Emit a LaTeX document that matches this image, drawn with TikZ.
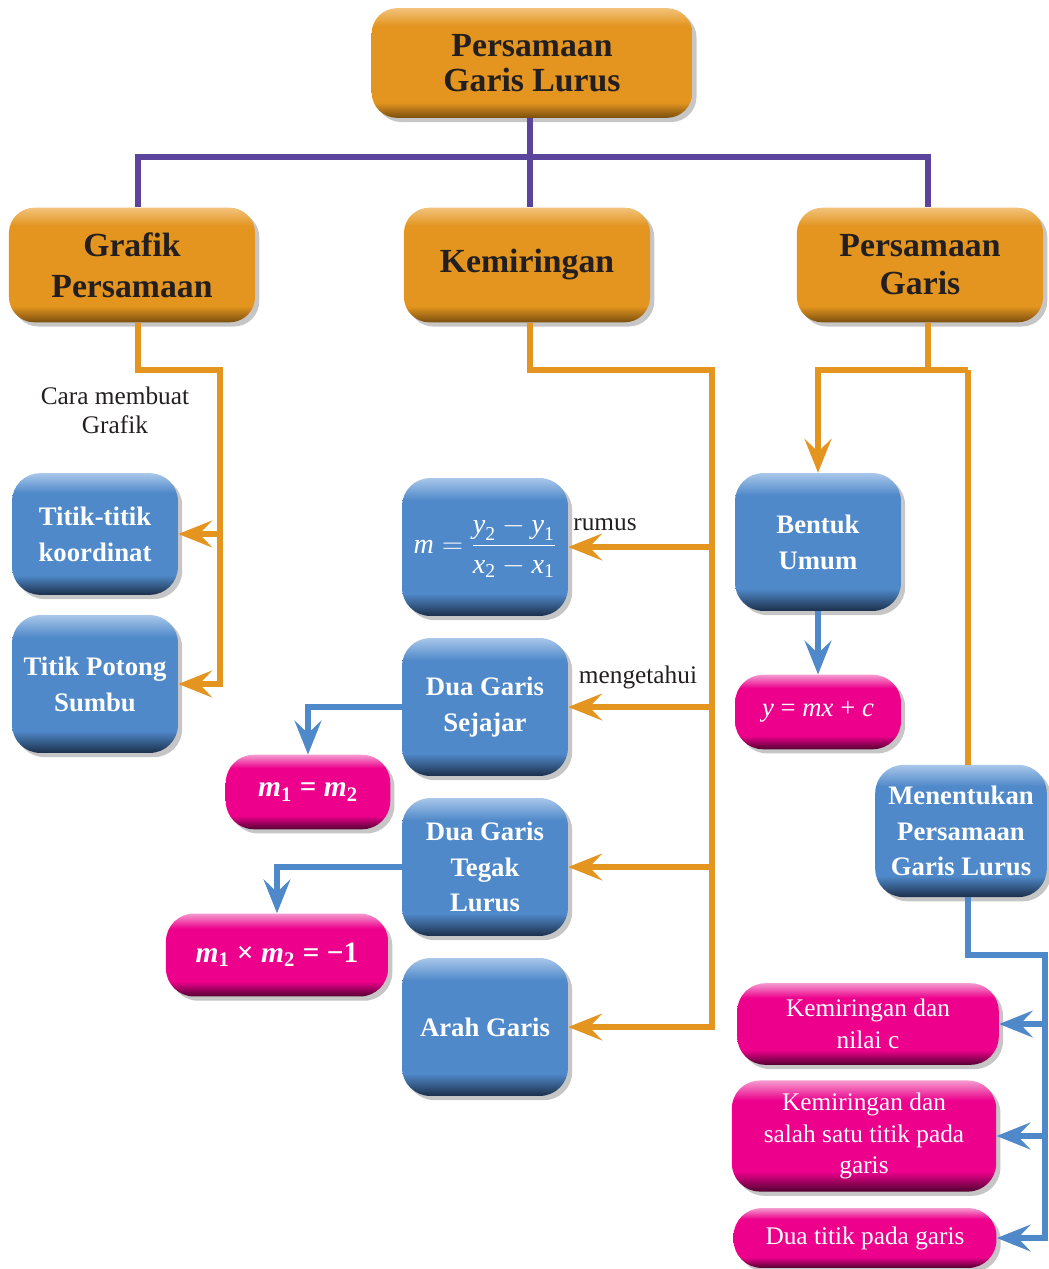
\documentclass[tikz,border=0pt]{standalone}
\usepackage{amsmath}
\usepackage{fontspec}
\setmainfont{Liberation Serif}
\usepackage{tikz}
\usepackage{xcolor}
\usetikzlibrary{arrows.meta,shadows}

\definecolor{jingga}{HTML}{E3951F}
\definecolor{jinggagelap}{HTML}{7A4E0E}
\definecolor{jinggaterang}{HTML}{F2C27A}
\definecolor{biru}{HTML}{4F89C9}
\definecolor{birugelap}{HTML}{1C2F4A}
\definecolor{biruterang}{HTML}{A9C7EA}
\definecolor{pink}{HTML}{EC008C}
\definecolor{pinkgelap}{HTML}{520030}
\definecolor{pinkterang}{HTML}{F59ACF}
\definecolor{ungu}{HTML}{5A449C}
\definecolor{teks}{HTML}{231F20}

\pgfdeclareverticalshading{kotakjingga}{100bp}{color(0bp)=(jinggagelap); color(25bp)=(jinggagelap); color(32bp)=(jingga); color(67bp)=(jingga); color(75bp)=(jinggaterang); color(100bp)=(jinggaterang)}
\pgfdeclareverticalshading{kotakbiru}{100bp}{color(0bp)=(birugelap); color(25bp)=(birugelap); color(33bp)=(biru); color(67bp)=(biru); color(75bp)=(biruterang); color(100bp)=(biruterang)}
\pgfdeclareverticalshading{kotakpink}{100bp}{color(0bp)=(pinkgelap); color(25bp)=(pinkgelap); color(34bp)=(pink); color(66bp)=(pink); color(75bp)=(pinkterang); color(100bp)=(pinkterang)}

\begin{document}
\begin{tikzpicture}[x=0.025cm, y=-0.025cm, >={Stealth[length=24pt,width=19pt,inset=9pt]},
    kotak/.style={align=center, inner sep=2pt, drop shadow={opacity=0.45, shadow xshift=3pt, shadow yshift=-3pt}},
    utama/.style={kotak, rounded corners=18pt, shading=kotakjingga, text=teks, minimum width=175pt, minimum height=81.5pt, font=\fontsize{24}{29}\selectfont\bfseries},
    kotakb/.style={kotak, rounded corners=20pt, shading=kotakbiru, text=white, minimum width=118pt, minimum height=98pt, font=\fontsize{19}{25.5}\selectfont\bfseries},
    kotakp/.style={kotak, rounded corners=20pt, shading=kotakpink, text=white, minimum width=117pt, minimum height=53pt, font=\fontsize{18}{23}\selectfont},
    ket/.style={text=teks, align=center, font=\fontsize{18}{20.5}\selectfont},
    garisu/.style={draw=ungu, line width=4.3pt},
    garisj/.style={draw=jingga, line width=4.3pt},
    garisb/.style={draw=biru, line width=4.3pt}]
    \useasboundingbox (0,0) rectangle (1048,1269);

    \node[utama, minimum width=228pt, minimum height=78pt, font=\fontsize{24}{25}\selectfont\bfseries] (pgl) at (532,63) {Persamaan\\Garis Lurus};
    \node[utama] (grafik) at (132,265) {Grafik\\Persamaan};
    \node[utama] (miring) at (527,265) {\raisebox{-4pt}{Kemiringan}};
    \node[utama, font=\fontsize{24}{27}\selectfont\bfseries] (persgaris) at (920,265) {Persamaan\\Garis};

    \node[kotakb, minimum height=86.5pt] (titik) at (95,534) {Titik-titik\\koordinat};
    \node[kotakb] (potong) at (95,684) {Titik Potong\\Sumbu};
    \node[kotakb, font=\fontsize{20}{22}\selectfont] (rumusm) at (485,547) {$\textit{m} = \dfrac{\textit{y}_{\text{2}} - \textit{y}_{\text{1}}}{\textit{x}_{\text{2}} - \textit{x}_{\text{1}}}$};
    \node[kotakb] (sejajar) at (485,707) {Dua Garis\\Sejajar};
    \node[kotakb] (tegak) at (485,867) {Dua Garis\\Tegak\\Lurus};
    \node[kotakb] (arah) at (485,1027) {Arah Garis};
    \node[kotakb] (bentuk) at (818,542) {Bentuk\\Umum};
    \node[kotakb, minimum width=122pt, minimum height=94pt] (tentukan) at (961,831) {Menentukan\\Persamaan\\Garis Lurus};

    \node[kotakp, minimum width=118pt, font=\fontsize{19}{23}\selectfont] (ymxc) at (818,712) {\textit{y} = \textit{mx} + \textit{c}};
    \node[kotakp, font=\fontsize{21}{24}\selectfont\bfseries] (sama) at (308,792) {\textit{m}\textsubscript{1} = \textit{m}\textsubscript{2}};
    \node[kotakp, minimum width=158pt, minimum height=59pt, font=\fontsize{21}{24}\selectfont\bfseries] (kali) at (277,955) {\textit{m}\textsubscript{1} × \textit{m}\textsubscript{2} = −1};
    \node[kotakp, minimum width=186pt, minimum height=58pt] (kemc) at (868,1024) {Kemiringan dan\\nilai c};
    \node[kotakp, minimum width=188pt, minimum height=79pt, font=\fontsize{18}{22.5}\selectfont] (kems) at (864,1136) {Kemiringan dan\\salah satu titik pada\\garis};
    \node[kotakp, minimum width=187pt, minimum height=42.5pt] (duatitik) at (865,1238) {Dua titik pada garis};

    \node[ket] (lcara) at (115,410) {Cara membuat\\Grafik};
    \node[ket] (lrumus) at (605,525) {rumus};
    \node[ket] (ltahu) at (638,677) {mengetahui};

    \coordinate (atas) at (530,157);
    \coordinate (kiri) at (138,370);
    \coordinate (kiribelok) at (220,370);
    \coordinate (tengah) at (712,370);
    \coordinate (kanan) at (928,370);
    \coordinate (kananbelok) at (968,370);
    \coordinate (bawah) at (1045,955);

    \draw[garisu] (pgl.south -| atas) -- (atas) -- (miring.north -| atas);
    \draw[garisu] (grafik.north -| kiri) |- (atas) -| (persgaris.north -| kanan);

    \draw[garisj, ->] (grafik.south -| kiri) -- (kiri) -- (kiribelok) |- (potong.east);
    \draw[garisj, ->] (kiribelok |- titik.east) -- (titik.east);

    \draw[garisj, ->] (miring.south -| atas) |- (tengah) |- (arah.east);
    \draw[garisj, ->] (tengah |- rumusm.east) -- (rumusm.east);
    \draw[garisj, ->] (tengah |- sejajar.east) -- (sejajar.east);
    \draw[garisj, ->] (tengah |- tegak.east) -- (tegak.east);

    \draw[garisj] (persgaris.south -| kanan) -- (kanan);
    \draw[garisj, ->] (kananbelok) -| (bentuk.north);
    \draw[garisj] (kananbelok) -- (tentukan.north -| kananbelok);

    \draw[garisb, ->] (sejajar.west) -| (sama.north);
    \draw[garisb, ->] (tegak.west) -| (kali.north);
    \draw[garisb, ->] (bentuk.south) -- (ymxc.north);
    \draw[garisb, ->] (tentukan.south -| kananbelok) |- (bawah) |- (duatitik.east);
    \draw[garisb, ->] (bawah |- kemc.east) -- (kemc.east);
    \draw[garisb, ->] (bawah |- kems.east) -- (kems.east);
\end{tikzpicture}
\end{document}
